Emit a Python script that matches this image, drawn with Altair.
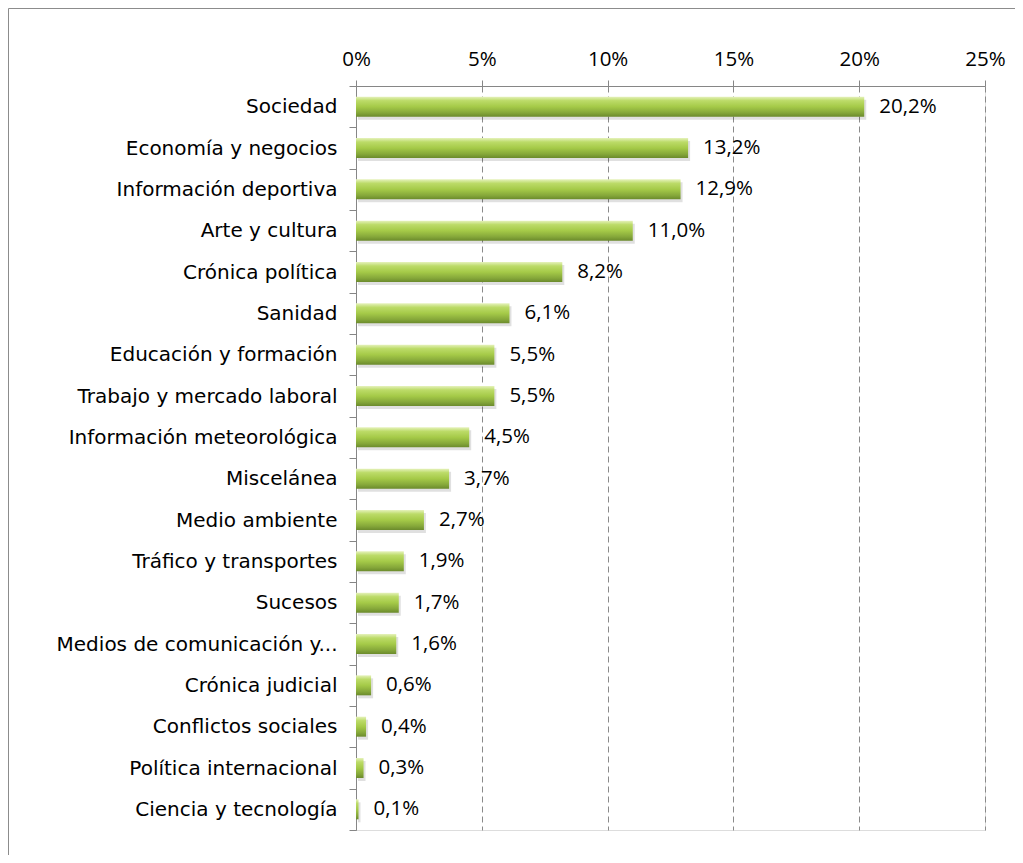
import altair as alt
import pandas as pd

categories = [
    "Sociedad", "Economía y negocios", "Información deportiva", "Arte y cultura",
    "Crónica política", "Sanidad", "Educación y formación", "Trabajo y mercado laboral",
    "Información meteorológica", "Miscelánea", "Medio ambiente", "Tráfico y transportes",
    "Sucesos", "Medios de comunicación y...", "Crónica judicial", "Conflictos sociales",
    "Política internacional", "Ciencia y tecnología",
]
values = [20.2, 13.2, 12.9, 11.0, 8.2, 6.1, 5.5, 5.5, 4.5, 3.7, 2.7, 1.9, 1.7, 1.6, 0.6, 0.4, 0.3, 0.1]
x_ticks = [0, 5, 10, 15, 20, 25]

df = pd.DataFrame({"cat": categories, "val": values})

W, H = 629, 744
PAD = {"left": 348, "top": 78, "right": 30, "bottom": 25}

xenc = alt.X(
    "val:Q",
    scale=alt.Scale(domain=[0, 25], nice=False),
    title=None,
    axis=alt.Axis(
        orient="top", values=x_ticks, labelExpr="datum.value + '%'",
        labelFlush=False, labelOverlap=False,
        grid=True, gridDash=[6, 4], gridColor="#8a8a8a", gridWidth=1,
        domainColor="#868686", tickColor="#868686", tickSize=6,
        labelFont="Open Sans", labelFontSize=20.5, labelColor="#000000",
        labelPadding=11,
    ),
)
yenc = alt.Y(
    "cat:N", sort=categories, title=None,
    scale=alt.Scale(paddingInner=0, paddingOuter=0),
    axis=alt.Axis(
        tickBand="extent", domainColor="#868686", tickColor="#868686", tickSize=7,
        labelFont="DejaVu Sans", labelFontSize=20, labelColor="#000000",
        labelPadding=12, labelLimit=400,
    ),
)

grad = alt.Gradient(
    gradient="linear",
    stops=[
        alt.GradientStop(color="#e6f2bc", offset=0.0),
        alt.GradientStop(color="#bcdb68", offset=0.2),
        alt.GradientStop(color="#a5ca48", offset=0.5),
        alt.GradientStop(color="#86a83a", offset=0.8),
        alt.GradientStop(color="#6b8a2c", offset=1.0),
    ],
    x1=0, x2=0, y1=0, y2=1,
)

base = alt.Chart(df)

shadow = base.mark_bar(color="#000000", opacity=0.12, size=20, yOffset=3, xOffset=2).encode(x=xenc, y=yenc)
bars = base.mark_bar(color=grad, size=20).encode(x=xenc, y=yenc)
labels = base.transform_calculate(
    lab="replace(format(datum.val, '.1f'), '.', ',') + '%'"
).mark_text(
    align="left", baseline="middle", dx=15, font="Open Sans", fontSize=20.5, color="#000000"
).encode(x=xenc, y=yenc, text="lab:N")

one = alt.Data(values=[{"a": 1}])
top_line = alt.Chart(one).mark_rule(color="#8c8c8c", strokeWidth=1).encode(
    x=alt.value(-PAD["left"] + 0.5), x2=alt.value(W + PAD["right"]),
    y=alt.value(-PAD["top"] + 0.5),
)
left_line = alt.Chart(one).mark_rule(color="#8c8c8c", strokeWidth=1).encode(
    x=alt.value(-PAD["left"] + 0.5),
    y=alt.value(-PAD["top"] + 0.5), y2=alt.value(H + PAD["bottom"]),
)

chart = alt.layer(top_line, left_line, shadow, bars, labels).properties(
    width=W, height=H,
    autosize=alt.AutoSizeParams(type="none"),
    padding=PAD,
).configure_view(strokeWidth=0).configure(background="#ffffff")

chart.save("out.html", embed_options={"renderer": "svg", "actions": False})
